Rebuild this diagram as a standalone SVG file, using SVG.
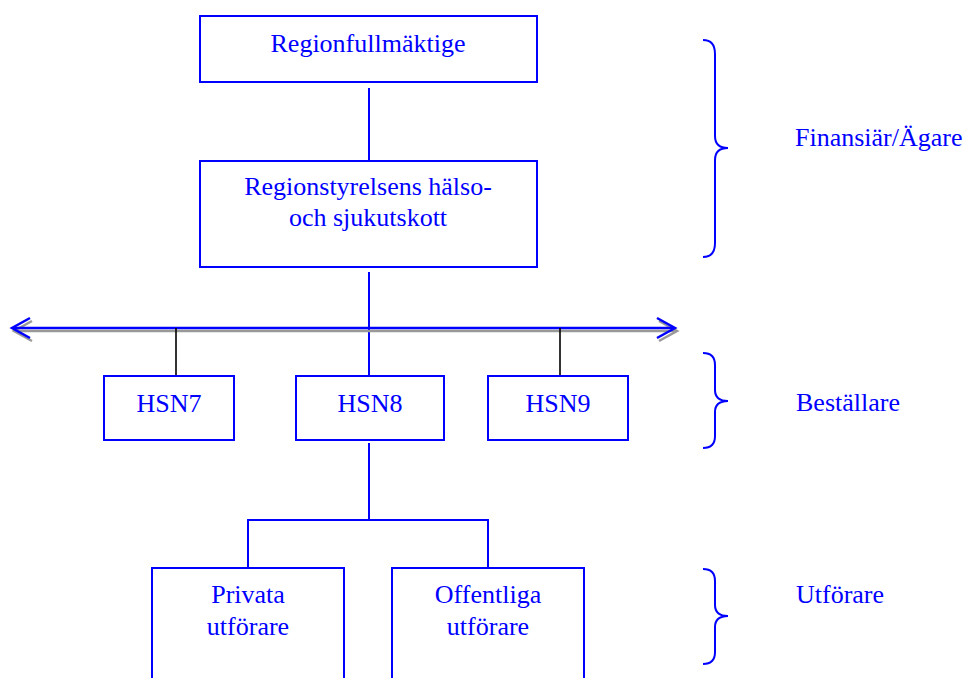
<svg xmlns="http://www.w3.org/2000/svg" width="968" height="678" viewBox="0 0 968 678">
<style>
.box{fill:#fff;stroke:#0000ff;stroke-width:2}
.t{font-family:"Liberation Serif","Times New Roman",serif;font-size:26px;fill:#0000ff}
.c{text-anchor:middle}
.ln{stroke:#0000ff;stroke-width:2;fill:none}
.bk{stroke:#000;stroke-width:1.6;fill:none}
.sh{stroke:#999;stroke-width:2.5;fill:none}
.bus{stroke:#0000ff;stroke-width:2.5;fill:none}
.br{stroke:#0000ff;stroke-width:2;fill:none}
</style>
<rect width="968" height="678" fill="#fff"/>
<g id="connectors">
<line class="ln" x1="369" y1="88" x2="369" y2="161"/>
<line class="ln" x1="369" y1="272" x2="369" y2="376"/>
<polyline class="sh" points="32,321 14,331 32,341"/>
<line class="sh" x1="15" y1="331" x2="676" y2="331"/>
<polyline class="sh" points="659,321 677,331 659,341"/>
<line class="bus" x1="13" y1="328" x2="674" y2="328"/>
<polyline class="bus" points="30,318 12,328 30,338"/>
<polyline class="bus" points="657,318 675,328 657,338"/>
<line class="bk" x1="176" y1="328" x2="176" y2="376"/>
<line class="bk" x1="560" y1="328" x2="560" y2="376"/>
<line class="ln" x1="369" y1="443" x2="369" y2="520"/>
<polyline class="ln" points="248,568 248,520 488,520 488,568"/>
</g>
<g id="n-regionfullmaktige">
<rect class="box" x="200" y="16" width="337" height="66"/>
<text class="t c" x="368" y="52">Regionfullmäktige</text>
</g>
<g id="n-regionstyrelsen">
<rect class="box" x="200" y="161" width="337" height="106"/>
<text class="t c" x="368" y="195">Regionstyrelsens hälso-</text>
<text class="t c" x="368" y="226">och sjukutskott</text>
</g>
<g id="n-hsn7">
<rect class="box" x="104" y="376" width="130" height="64"/>
<text class="t c" x="169" y="412">HSN7</text>
</g>
<g id="n-hsn8">
<rect class="box" x="296" y="376" width="148" height="64"/>
<text class="t c" x="370" y="412">HSN8</text>
</g>
<g id="n-hsn9">
<rect class="box" x="488" y="376" width="140" height="64"/>
<text class="t c" x="558" y="412">HSN9</text>
</g>
<g id="n-privata">
<rect class="box" x="152" y="568" width="192" height="130"/>
<text class="t c" x="248" y="603">Privata</text>
<text class="t c" x="248" y="635">utförare</text>
</g>
<g id="n-offentliga">
<rect class="box" x="392" y="568" width="192" height="130"/>
<text class="t c" x="488" y="603">Offentliga</text>
<text class="t c" x="488" y="635">utförare</text>
</g>
<g id="brace-finansiar">
<path class="br" d="M703,40 Q715,40 715,54 L715,136 Q715,148 728,148 Q715,148 715,160 L715,243 Q715,257 703,257"/>
<text class="t" x="795" y="146">Finansiär/Ägare</text>
</g>
<g id="brace-bestallare">
<path class="br" d="M703,353 Q715,353 715,365 L715,390 Q715,401 728,401 Q715,401 715,412 L715,436 Q715,448 703,448"/>
<text class="t" x="796" y="411">Beställare</text>
</g>
<g id="brace-utforare">
<path class="br" d="M703,569 Q715,569 715,581 L715,605 Q715,616 728,616 Q715,616 715,627 L715,652 Q715,664 703,664"/>
<text class="t" x="796" y="603">Utförare</text>
</g>
</svg>
